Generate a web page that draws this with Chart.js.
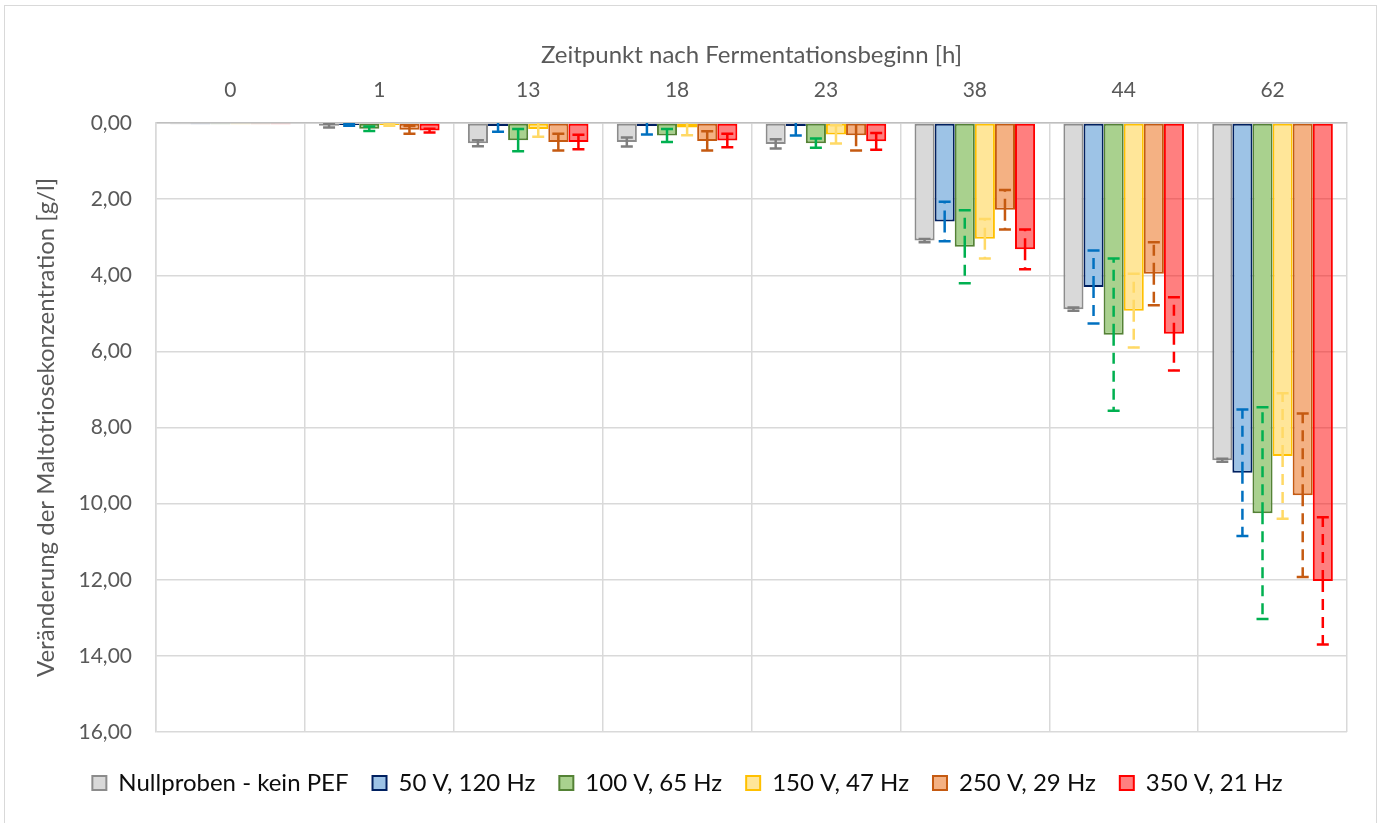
<!DOCTYPE html>
<html lang="de">
<head>
    <meta charset="UTF-8">
    <title>Veränderung der Maltotriosekonzentration</title>
    <script src="https://cdn.jsdelivr.net/npm/chart.js"></script>
    <style>
        body {
            margin: 0;
            background: #ffffff;
        }
        .chart-box {
            position: absolute;
            left: 0;
            top: 0;
            width: 1384px;
            height: 823px;
        }
        .rahmen {
            position: absolute;
            left: 4px;
            top: 5px;
            width: 1371px;
            height: 820px;
            border: 1.5px solid #d9d9d9;
            pointer-events: none;
        }
    </style>
</head>
<body>
    <div class="chart-box">
        <canvas id="maltotriose" width="1384" height="823"></canvas>
    </div>
    <div class="rahmen"></div>

    <script>
        // Zeitpunkte [h]
        const zeitpunkte = ['0', '1', '13', '18', '23', '38', '44', '62'];

        // Mittelwerte der Abnahme [g/l]
        const nullproben = [0.03, 0.07, 0.53, 0.50, 0.55, 3.09, 4.89, 8.86];
        const v50 = [0.03, 0.05, 0.08, 0.08, 0.08, 2.59, 4.31, 9.19];
        const v100 = [0.03, 0.15, 0.45, 0.33, 0.53, 3.25, 5.56, 10.25];
        const v150 = [0.03, 0.05, 0.16, 0.12, 0.30, 3.04, 4.93, 8.75];
        const v250 = [0.03, 0.18, 0.50, 0.47, 0.32, 2.28, 3.96, 9.78];
        const v350 = [0.03, 0.20, 0.50, 0.46, 0.48, 3.32, 5.54, 12.03];

        // Standardabweichungen [g/l]
        const nullprobenSd = [0, 0.05, 0.08, 0.12, 0.12, 0.04, 0.04, 0.04];
        const v50Sd = [0, 0.02, 0.15, 0.22, 0.25, 0.52, 0.96, 1.66];
        const v100Sd = [0, 0.06, 0.29, 0.17, 0.12, 0.96, 2.00, 2.78];
        const v150Sd = [0, 0.02, 0.20, 0.20, 0.24, 0.52, 0.97, 1.65];
        const v250Sd = [0, 0.10, 0.22, 0.25, 0.40, 0.52, 0.83, 2.15];
        const v350Sd = [0, 0.05, 0.19, 0.18, 0.22, 0.52, 0.96, 1.67];

        const yTicks = [0, 2, 4, 6, 8, 10, 12, 14, 16];

        const schrift = 'Lato, "Open Sans", sans-serif';

        function serie(label, data, sd, fill, rand, fehlerFarbe) {
            return {
                label: label,
                data: data,
                fehler: sd,
                fehlerFarbe: fehlerFarbe,
                backgroundColor: fill,
                borderColor: rand,
                borderWidth: 2,
                borderSkipped: false,
                barPercentage: 1.0,
                categoryPercentage: 0.81
            };
        }

        // Fehlerbalken (gestrichelt, mit Endkappen)
        const fehlerbalken = {
            id: 'fehlerbalken',
            afterDatasetsDraw(chart) {
                const ctx = chart.ctx;
                const y = chart.scales.y;
                const area = chart.chartArea;
                ctx.save();
                ctx.beginPath();
                ctx.rect(area.left, area.top, area.right - area.left, area.bottom - area.top);
                ctx.clip();
                chart.data.datasets.forEach((ds, i) => {
                    const meta = chart.getDatasetMeta(i);
                    meta.data.forEach((bar, j) => {
                        const wert = ds.data[j];
                        const sd = ds.fehler[j];
                        if (!sd) return;
                        const x = bar.x;
                        const y0 = y.getPixelForValue(wert);
                        const yPlus = y.getPixelForValue(wert + sd);
                        const yMinus = y.getPixelForValue(wert - sd);
                        ctx.strokeStyle = ds.fehlerFarbe;
                        ctx.lineWidth = 2.5;
                        ctx.setLineDash([11, 7]);
                        ctx.beginPath();
                        ctx.moveTo(x, y0);
                        ctx.lineTo(x, yPlus);
                        ctx.moveTo(x, y0);
                        ctx.lineTo(x, yMinus);
                        ctx.stroke();
                        ctx.setLineDash([]);
                        ctx.beginPath();
                        ctx.moveTo(x - 6, yPlus);
                        ctx.lineTo(x + 6, yPlus);
                        ctx.moveTo(x - 6, yMinus);
                        ctx.lineTo(x + 6, yMinus);
                        ctx.stroke();
                    });
                });
                ctx.restore();
            }
        };

        const ctx = document.getElementById('maltotriose').getContext('2d');
        const chart = new Chart(ctx, {
            type: 'bar',
            data: {
                labels: zeitpunkte,
                datasets: [
                    serie('Nullproben - kein PEF', nullproben, nullprobenSd, '#d9d9d9', '#8c8c8c', '#7f7f7f'),
                    serie('50 V, 120 Hz', v50, v50Sd, '#9dc3e6', '#002060', '#0070c0'),
                    serie('100 V, 65 Hz', v100, v100Sd, '#a9d18e', '#548235', '#00b050'),
                    serie('150 V, 47 Hz', v150, v150Sd, '#ffe699', '#ffc000', '#ffd966'),
                    serie('250 V, 29 Hz', v250, v250Sd, '#f4b183', '#c55a11', '#c55a11'),
                    serie('350 V, 21 Hz', v350, v350Sd, 'rgba(255, 0, 0, 0.5)', '#ff0000', '#ff0000')
                ]
            },
            options: {
                responsive: false,
                animation: false,
                layout: {
                    padding: { left: 28, right: 37, top: 30, bottom: 18 }
                },
                plugins: {
                    tooltip: { enabled: false },
                    legend: {
                        position: 'bottom',
                        title: {
                            display: true,
                            text: '',
                            font: { size: 10 },
                            padding: { top: 0, bottom: 3 }
                        },
                        labels: {
                            boxWidth: 14,
                            boxHeight: 14,
                            padding: 24,
                            color: '#0d0d0d',
                            font: { family: schrift, size: 24 }
                        }
                    }
                },
                scales: {
                    x: {
                        position: 'top',
                        afterFit(scale) { scale.height = 93; },
                        title: {
                            display: true,
                            text: 'Zeitpunkt nach Fermentationsbeginn [h]',
                            color: '#595959',
                            font: { family: schrift, size: 24 },
                            padding: { top: 11, bottom: 0 }
                        },
                        ticks: {
                            color: '#595959',
                            font: { family: schrift, size: 21 },
                            padding: 20,
                            maxRotation: 0
                        },
                        grid: {
                            color: '#d9d9d9',
                            lineWidth: 1.5,
                            drawTicks: false
                        },
                        border: { color: '#bfbfbf', width: 1.5 }
                    },
                    y: {
                        reverse: true,
                        min: 0,
                        max: 16,
                        afterFit(scale) { scale.width = 128; },
                        afterBuildTicks(scale) {
                            scale.ticks = yTicks.map(v => ({ value: v }));
                        },
                        title: {
                            display: true,
                            text: 'Veränderung der Maltotriosekonzentration [g/l]',
                            color: '#595959',
                            font: { family: schrift, size: 24 },
                            padding: { top: 4, bottom: 4 }
                        },
                        ticks: {
                            color: '#595959',
                            font: { family: schrift, size: 21 },
                            padding: 24,
                            callback: v => v.toFixed(2).replace('.', ',')
                        },
                        grid: {
                            color: '#d9d9d9',
                            lineWidth: 1.5,
                            drawTicks: false
                        },
                        border: { color: '#d9d9d9', width: 1.5 }
                    }
                }
            },
            plugins: [fehlerbalken]
        });
    </script>
</body>
</html>
